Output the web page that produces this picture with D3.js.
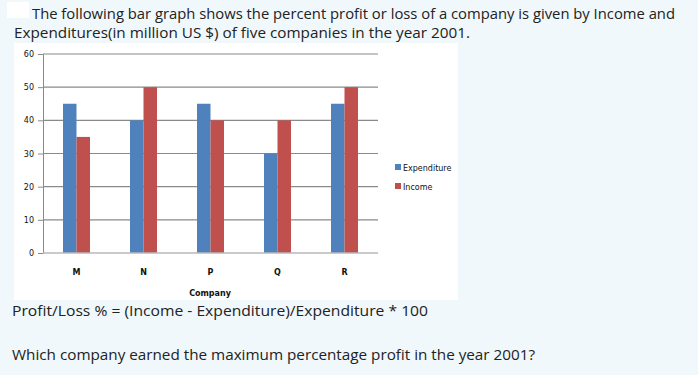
<!DOCTYPE html>
<html>
<head>
<meta charset="utf-8">
<script src="https://cdn.jsdelivr.net/npm/d3@7"></script>
<style>
  body { margin: 0; background: #f0f8fc; }
  svg { display: block; }
</style>
</head>
<body>
<svg id="chart" width="698" height="375"></svg>
<script>
// data
var companies = ["M", "N", "P", "Q", "R"];
var expenditure = [45, 40, 45, 30, 45];
var income = [35, 50, 40, 40, 50];
var seriesNames = ["Expenditure", "Income"];
var yTicks = [0, 10, 20, 30, 40, 50, 60];

var colors = ["#4f81bd", "#c0504d"];
var svg = d3.select("#chart");

// page background + small white box top-left
svg.append("rect").attr("width", 698).attr("height", 375).attr("fill", "#f0f8fc");
svg.append("rect").attr("x", 7).attr("y", 2).attr("width", 22).attr("height", 16).attr("fill", "#fff");

var textFont = "'Open Sans', sans-serif";
function para(txt, x, y, x2) {
    svg.append("text")
        .attr("x", x).attr("y", y)
        .attr("font-family", textFont)
        .attr("font-size", 14.5)
        .attr("fill", "#222")
        .attr("textLength", x2 - x)
        .attr("lengthAdjust", "spacingAndGlyphs")
        .text(txt);
}
para("The following bar graph shows the percent profit or loss of a company is given by Income and", 32, 18.5, 675);
para("Expenditures(in million US $) of five companies in the year 2001.", 14, 38, 470);

// chart panel
svg.append("rect").attr("x", 14).attr("y", 43).attr("width", 444).attr("height", 257).attr("fill", "#fff");

var x = d3.scaleBand().domain(companies).range([43, 378]);
var y = d3.scaleLinear().domain([0, 60]).range([253, 54]);

// gridlines
svg.append("g").selectAll("line").data(yTicks.slice(1)).enter().append("line")
    .attr("x1", 43).attr("x2", 378)
    .attr("y1", d => y(d)).attr("y2", d => y(d))
    .attr("stroke", "#8a8a8a").attr("stroke-width", 1.2);

// y axis
var yAxis = svg.append("g").attr("transform", "translate(43,0)")
    .call(d3.axisLeft(y).tickValues(yTicks).tickSize(5).tickPadding(4));
yAxis.select(".domain").attr("stroke", "#8a8a8a");
yAxis.selectAll(".tick line").attr("stroke", "#8a8a8a");
yAxis.selectAll("text").attr("font-family", "'DejaVu Sans', Verdana, sans-serif")
    .attr("font-size", 8).attr("fill", "#111");

// bars
var bw = 13.5;
var groups = svg.append("g").selectAll("g").data(companies).enter().append("g");
[expenditure, income].forEach(function(vals, s) {
    groups.append("rect")
        .attr("x", (d, i) => x(d) + x.bandwidth() / 2 - bw + s * bw)
        .attr("y", (d, i) => y(vals[i]))
        .attr("width", bw)
        .attr("height", (d, i) => y(0) - y(vals[i]))
        .attr("fill", colors[s]);
});

// x axis line
svg.append("line").attr("x1", 43).attr("x2", 378).attr("y1", y(0)).attr("y2", y(0))
    .attr("stroke", "#b8b8b8").attr("stroke-width", 1.5);

// category labels
svg.append("g").selectAll("text").data(companies).enter().append("text")
    .attr("x", d => x(d) + x.bandwidth() / 2).attr("y", 275)
    .attr("text-anchor", "middle")
    .attr("font-family", "'DejaVu Sans', Verdana, sans-serif")
    .attr("font-size", 8).attr("font-weight", "bold").attr("fill", "#111")
    .text(d => d);

svg.append("text").attr("x", 210).attr("y", 296)
    .attr("text-anchor", "middle")
    .attr("font-family", "'DejaVu Sans', Verdana, sans-serif")
    .attr("font-size", 8).attr("font-weight", "bold").attr("fill", "#111")
    .text("Company");

// legend
var leg = svg.append("g").selectAll("g").data(seriesNames).enter().append("g")
    .attr("transform", (d, i) => "translate(395," + (164 + i * 19) + ")");
leg.append("rect").attr("width", 6).attr("height", 6).attr("fill", (d, i) => colors[i]);
leg.append("text").attr("x", 8).attr("y", 6.5)
    .attr("font-family", "'DejaVu Sans', Verdana, sans-serif")
    .attr("font-size", 8).attr("fill", "#111")
    .text(d => d);

para("Profit/Loss % = (Income - Expenditure)/Expenditure * 100", 12, 316, 428);
para("Which company earned the maximum percentage profit in the year 2001?", 12, 360, 535);
</script>
</body>
</html>
